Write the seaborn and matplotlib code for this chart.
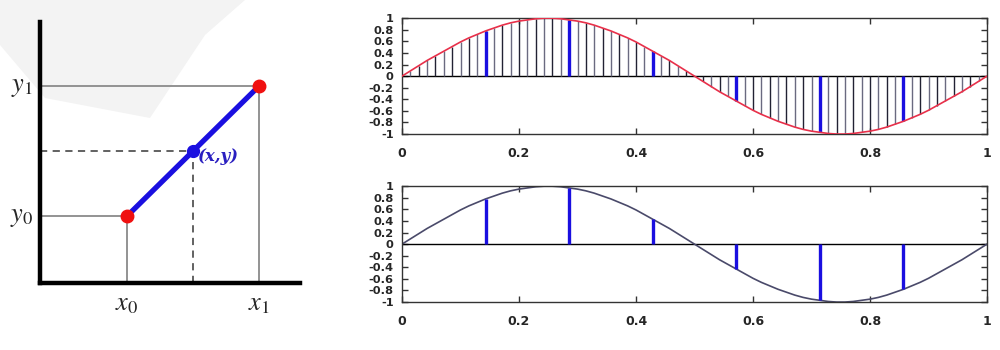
import numpy as np
import pandas as pd
import matplotlib
matplotlib.use("Agg")
import matplotlib.pyplot as plt
from matplotlib.patches import Polygon
import seaborn as sns

# ---- data -------------------------------------------------------------
# linear-interpolation sketch (diagram units)
end_x = [87, 219]          # x0, x1
end_y = [67, 197]          # y0, y1
mid_x = 153                # interpolated point (x, y)
mid_y = 132

# densely sampled signal (71 samples over one period)
dense_t = np.arange(71) / 70
dense_v = [0.00, 0.09, 0.18, 0.27, 0.35, 0.43, 0.51, 0.59, 0.66, 0.72,
           0.78, 0.83, 0.88, 0.92, 0.95, 0.97, 0.99, 1.00, 1.00, 0.99,
           0.97, 0.95, 0.92, 0.88, 0.83, 0.78, 0.72, 0.66, 0.59, 0.51,
           0.43, 0.35, 0.27, 0.18, 0.09, 0.00, -0.09, -0.18, -0.27, -0.35,
           -0.43, -0.51, -0.59, -0.66, -0.72, -0.78, -0.83, -0.88, -0.92, -0.95,
           -0.97, -0.99, -1.00, -1.00, -0.99, -0.97, -0.95, -0.92, -0.88, -0.83,
           -0.78, -0.72, -0.66, -0.59, -0.51, -0.43, -0.35, -0.27, -0.18, -0.09,
           0.00]

# coarse samples
coarse_t = [0.143, 0.286, 0.429, 0.571, 0.714, 0.857]
coarse_v = [0.78, 0.97, 0.43, -0.43, -0.97, -0.78]

xtick_vals = [0, 0.2, 0.4, 0.6, 0.8, 1]
xtick_labels = ["0", "0.2", "0.4", "0.6", "0.8", "1"]
ytick_vals = [1, 0.8, 0.6, 0.4, 0.2, 0, -0.2, -0.4, -0.6, -0.8, -1]
ytick_labels = ["1", "0.8", "0.6", "0.4", "0.2", "0", "-0.2", "-0.4", "-0.6", "-0.8", "-1"]

# ---- style -------------------------------------------------------------
sns.set_style("white")
plt.rcParams["font.family"] = ["DejaVu Sans"]
plt.rcParams["mathtext.fontset"] = "stix"

fig = plt.figure(figsize=(10, 3.5), dpi=100)
fig.patch.set_facecolor("white")

# faint decorative backdrop in the upper-left corner (figure pixels, y down)
backdrop_px = [(0, 0), (245, 0), (205, 35), (150, 118), (45, 98), (0, 45)]
fig.patches.append(Polygon([(x / 1000, 1 - y / 350) for x, y in backdrop_px],
                           closed=True, transform=fig.transFigure,
                           facecolor="#f3f3f3", edgecolor="none", zorder=-1))

# ---- left: interpolation diagram -----------------------------------------
axl = fig.add_axes([0.04, 0.191, 0.26, 0.746])
axl.set_xlim(0, 260)
axl.set_ylim(0, 261)
for s in ["top", "right"]:
    axl.spines[s].set_visible(False)
for s in ["left", "bottom"]:
    axl.spines[s].set_linewidth(3.2)
    axl.spines[s].set_color("black")
axl.set_xticks([])
axl.set_yticks([])
axl.set_facecolor("none")

guide = "#8a8a8a"
# solid guides from the end points to the axes
axl.plot([0, end_x[1]], [end_y[1], end_y[1]], color=guide, lw=1.3, zorder=1)
axl.plot([end_x[1], end_x[1]], [0, end_y[1]], color=guide, lw=1.3, zorder=1)
axl.plot([0, end_x[0]], [end_y[0], end_y[0]], color=guide, lw=1.3, zorder=1)
axl.plot([end_x[0], end_x[0]], [0, end_y[0]], color=guide, lw=1.3, zorder=1)
# dashed guides for the interpolated point
axl.plot([0, mid_x], [mid_y, mid_y], color="#555555", lw=1.3, ls=(0, (4, 3)), zorder=1)
axl.plot([mid_x, mid_x], [0, mid_y], color="#555555", lw=1.3, ls=(0, (4, 3)), zorder=1)

seg = pd.DataFrame({"x": end_x, "y": end_y})
sns.lineplot(data=seg, x="x", y="y", ax=axl, color="#1a0fe0", lw=3.8, zorder=2)
axl.plot(end_x, end_y, "o", color="#f01010", ms=9, zorder=3)
axl.plot([mid_x], [mid_y], "o", color="#1a0fe0", ms=8.5, zorder=3)
axl.set_xlabel("")
axl.set_ylabel("")

axl.text(mid_x + 5, mid_y - 5, "(x,y)", color="#2a1fc0", fontsize=12,
         family="DejaVu Serif", style="italic", weight="bold", va="center", ha="left")
axl.text(-7, end_y[1], r"$y_1$", fontsize=19, ha="right", va="center")
axl.text(-7, end_y[0], r"$y_0$", fontsize=19, ha="right", va="center")
axl.text(end_x[0], -7, r"$x_0$", fontsize=19, ha="center", va="top")
axl.text(end_x[1], -7, r"$x_1$", fontsize=19, ha="center", va="top")
for t in axl.texts:
    t.set_clip_on(False)

# ---- right: sampled signals ---------------------------------------------
def style_axis(ax):
    ax.set_xlim(0, 1)
    ax.set_ylim(-1, 1)
    ax.set_xticks(xtick_vals)
    ax.set_xticklabels(xtick_labels, fontweight="bold")
    ax.set_yticks(ytick_vals)
    ax.set_yticklabels(ytick_labels, fontweight="bold")
    ax.tick_params(axis="both", direction="in", length=4, width=1, color="#333333",
                   top=True, right=True, bottom=True, left=True)
    ax.tick_params(axis="y", labelsize=8.2, pad=6)
    ax.tick_params(axis="x", labelsize=9, pad=9)
    for s in ax.spines.values():
        s.set_linewidth(1.0)
        s.set_color("#333333")
    ax.axhline(0, color="black", lw=1.0, zorder=1)
    ax.set_xlabel("")
    ax.set_ylabel("")

dense = pd.DataFrame({"t": dense_t, "v": dense_v})

ax1 = fig.add_axes([0.402, 0.617, 0.585, 0.331])
stem_cols = ["#222233" if k % 2 == 0 else "#6a6a80" for k in range(len(dense_t))]
ax1.vlines(dense_t, 0, dense_v, colors=stem_cols, lw=1.0, zorder=2)
ax1.vlines(coarse_t, 0, coarse_v, colors="#1a0fe0", lw=2.4, zorder=3)
sns.lineplot(data=dense, x="t", y="v", ax=ax1, color="#e8304a", lw=1.2, zorder=4)
style_axis(ax1)

ax2 = fig.add_axes([0.402, 0.137, 0.585, 0.331])
ax2.vlines(coarse_t, 0, coarse_v, colors="#1a0fe0", lw=2.4, zorder=3)
sns.lineplot(data=dense, x="t", y="v", ax=ax2, color="#4a4a6a", lw=1.2, zorder=2)
style_axis(ax2)

fig.savefig("out.png", dpi=100, facecolor="white")
